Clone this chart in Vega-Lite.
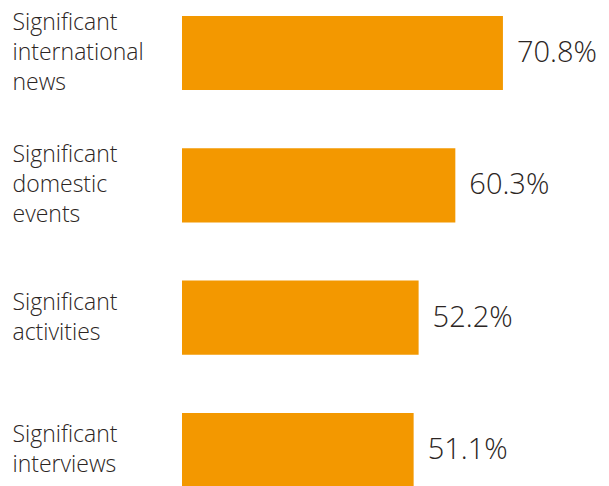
{
  "$schema": "https://vega.github.io/schema/vega-lite/v6.json",
  "width": 427,
  "height": 503,
  "autosize": {"type": "none"},
  "padding": {"left": 182, "top": 0, "right": 0, "bottom": 0},
  "background": "white",
  "config": {"view": {"stroke": null}, "font": "Open Sans"},
  "data": {
    "values": [
      {"label": "Significant\ninternational\nnews", "value": 70.8, "text": "70.8%"},
      {"label": "Significant\ndomestic\nevents", "value": 60.3, "text": "60.3%"},
      {"label": "Significant\nactivities", "value": 52.2, "text": "52.2%"},
      {"label": "Significant\ninterviews", "value": 51.1, "text": "51.1%"}
    ]
  },
  "encoding": {
    "y": {
      "field": "label",
      "type": "nominal",
      "sort": null,
      "scale": {"paddingInner": 0.44, "paddingOuter": 0.121},
      "axis": {
        "title": null,
        "domain": false,
        "ticks": false,
        "labelAlign": "left",
        "labelBaseline": "middle",
        "labelPadding": 170,
        "labelFont": "Open Sans",
        "labelFontWeight": 300,
        "labelFontSize": 23,
        "labelLineHeight": 30,
        "labelColor": "#2b2523",
        "labelLimit": 0,
        "labelOffset": {
          "condition": {"test": "length(split(datum.label, '\\n')) == 3", "value": -30},
          "value": -15
        },
        "labelExpr": "split(datum.label, '\\n')"
      }
    },
    "x": {
      "field": "value",
      "type": "quantitative",
      "scale": {"domain": [0, 94.2], "nice": false},
      "axis": null
    }
  },
  "layer": [
    {"mark": {"type": "bar", "color": "#f39800"}},
    {
      "mark": {
        "type": "text",
        "align": "left",
        "baseline": "middle",
        "dx": 14,
        "font": "Open Sans",
        "fontWeight": 300,
        "fontSize": 29,
        "color": "#2b2523"
      },
      "encoding": {"text": {"field": "text"}}
    }
  ]
}
